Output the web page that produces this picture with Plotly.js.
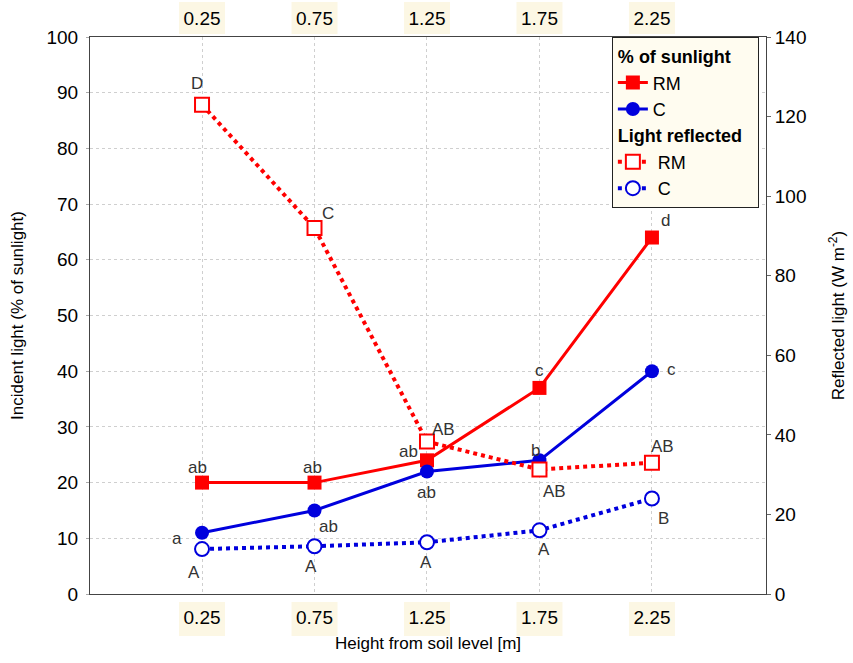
<!DOCTYPE html>
<html>
<head>
<meta charset="utf-8">
<script src="https://cdn.plot.ly/plotly-3.0.1.min.js"></script>
<style>html,body{margin:0;padding:0;background:#fff;}#chart{width:853px;height:663px;}</style>
</head>
<body>
<div id="chart"></div>
<script>
var heights = [0.25, 0.75, 1.25, 1.75, 2.25];
var tickLabels = ['0.25', '0.75', '1.25', '1.75', '2.25'];

var sunRM = [20, 20, 24, 37, 64];
var sunC = [11, 15, 22, 24, 40];
var refRM = [123, 92, 38.3, 31.3, 33];
var refC = [11.3, 12, 13, 16, 24];

var lettersSunRM = ['ab', 'ab', 'ab', 'c', 'd'];
var lettersSunC = ['a', 'ab', 'ab', 'b', 'c'];
var lettersRefRM = ['D', 'C', 'AB', 'AB', 'AB'];
var lettersRefC = ['A', 'A', 'A', 'A', 'B'];

var offSunRM = [[-5, 15], [-2, 15], [-18, 9], [0, 17], [14, 17]];
var offSunC = [[-25, -6], [14, -16], [0, -21], [-4, 10], [20, 2]];
var offRefRM = [[-5, 21], [13, 14], [17, 12], [15, -22], [11, 16]];
var offRefC = [[-8, -23], [-4, -20], [-1, -20], [5, -19], [12, -20]];

var RED = '#ff0000', BLUE = '#0000dd';
var FONT = 'Liberation Sans, Arial, sans-serif';

var traces = [
  {x: heights, y: sunRM, name: 'RM', mode: 'lines+markers', xaxis: 'x', yaxis: 'y',
   legendgroup: 'sun', legendgrouptitle: {text: '% of sunlight ', font: {size: 18, weight: 'bold', color: '#000'}},
   line: {color: RED, width: 3}, marker: {symbol: 'square', size: 14, color: RED}},
  {x: heights, y: sunC, name: 'C', mode: 'lines+markers', xaxis: 'x', yaxis: 'y',
   legendgroup: 'sun',
   line: {color: BLUE, width: 3}, marker: {symbol: 'circle', size: 14, color: BLUE}},
  {x: heights, y: refRM, name: ' RM', mode: 'lines+markers', xaxis: 'x2', yaxis: 'y2',
   legendgroup: 'ref', legendgrouptitle: {text: 'Light reflected ', font: {size: 18, weight: 'bold', color: '#000'}},
   line: {color: RED, width: 4, dash: '4px,4px'},
   marker: {symbol: 'square', size: 14, color: '#fff', line: {color: RED, width: 2}}},
  {x: heights, y: refC, name: ' C', mode: 'lines+markers', xaxis: 'x2', yaxis: 'y2',
   legendgroup: 'ref',
   line: {color: BLUE, width: 4, dash: '4px,4px'},
   marker: {symbol: 'circle', size: 14, color: '#fff', line: {color: BLUE, width: 2}}}
];

var annotations = [];
function addLetters(letters, offs, ys, yref) {
  for (var i = 0; i < heights.length; i++) {
    annotations.push({x: heights[i], y: ys[i], xref: 'x', yref: yref, text: letters[i],
      showarrow: false, xshift: offs[i][0], yshift: offs[i][1],
      font: {family: FONT, size: 17, color: '#333'}});
  }
}
addLetters(lettersSunRM, offSunRM, sunRM, 'y');
addLetters(lettersSunC, offSunC, sunC, 'y');
addLetters(lettersRefRM, offRefRM, refRM, 'y2');
addLetters(lettersRefC, offRefC, refC, 'y2');

var shapes = [];
for (var i = 0; i < heights.length; i++) {
  shapes.push({type: 'rect', xref: 'x', yref: 'paper', xsizemode: 'pixel', ysizemode: 'pixel',
    xanchor: heights[i], yanchor: 0, x0: -23, x1: 23, y0: -8, y1: -42,
    fillcolor: '#fcf7e4', line: {width: 0}, layer: 'below'});
  shapes.push({type: 'rect', xref: 'x', yref: 'paper', xsizemode: 'pixel', ysizemode: 'pixel',
    xanchor: heights[i], yanchor: 1, x0: -23, x1: 23, y0: 3, y1: 35,
    fillcolor: '#fcf7e4', line: {width: 0}, layer: 'below'});
}
shapes.push({type: 'rect', xref: 'paper', yref: 'paper', xsizemode: 'pixel', ysizemode: 'pixel',
  xanchor: 0.8876, yanchor: 0.847, x0: -2, x1: 2, y0: -2, y1: 2,
  fillcolor: '#000', line: {width: 0}, layer: 'above'});

var gridStyle = {gridcolor: '#cfcfcf', griddash: 'dot', gridwidth: 1};

var layout = {
  width: 853, height: 663,
  margin: {l: 90, r: 87, t: 37, b: 69},
  paper_bgcolor: '#fff', plot_bgcolor: '#fff',
  font: {family: FONT, size: 19, color: '#000'},
  showlegend: true,
  legend: {x: 0.772, y: 1, xanchor: 'left', yanchor: 'top', bgcolor: '#fffcf0',
    bordercolor: '#222', borderwidth: 1, font: {size: 18, color: '#000'},
    tracegroupgap: 0, itemwidth: 30},
  xaxis: Object.assign({range: [-0.248, 2.757], tickvals: heights, ticktext: tickLabels,
    showgrid: true, zeroline: false, showline: true, linecolor: '#444', linewidth: 1,
    ticks: '', ticklabelstandoff: 6,
    title: {text: 'Height from soil level [m]', font: {size: 17}, standoff: 10}}, gridStyle),
  xaxis2: {range: [-0.248, 2.757], tickvals: heights, ticktext: tickLabels, overlaying: 'x',
    side: 'top', anchor: 'y2', showgrid: false, zeroline: false, showline: true,
    linecolor: '#444', linewidth: 1, ticks: '', ticklabelstandoff: 3},
  yaxis: Object.assign({range: [0, 100], dtick: 10, showgrid: true, zeroline: false,
    showline: true, linecolor: '#444', linewidth: 1, ticks: 'outside', ticklen: 3,
    tickcolor: '#aaa', ticklabelstandoff: 4,
    title: {text: 'Incident light (% of sunlight)', font: {size: 17}, standoff: 18}}, gridStyle),
  yaxis2: {range: [0, 140], dtick: 20, overlaying: 'y', side: 'right', anchor: 'x2',
    showgrid: false, zeroline: false, showline: true, linecolor: '#444', linewidth: 1,
    ticks: 'outside', ticklen: 4, tickcolor: '#666',
    title: {text: 'Reflected light (W m<sup>-2</sup>)', font: {size: 17}, standoff: 26}},
  annotations: annotations,
  shapes: shapes
};

Plotly.newPlot('chart', traces, layout, {displayModeBar: false, staticPlot: true});
</script>
</body>
</html>
